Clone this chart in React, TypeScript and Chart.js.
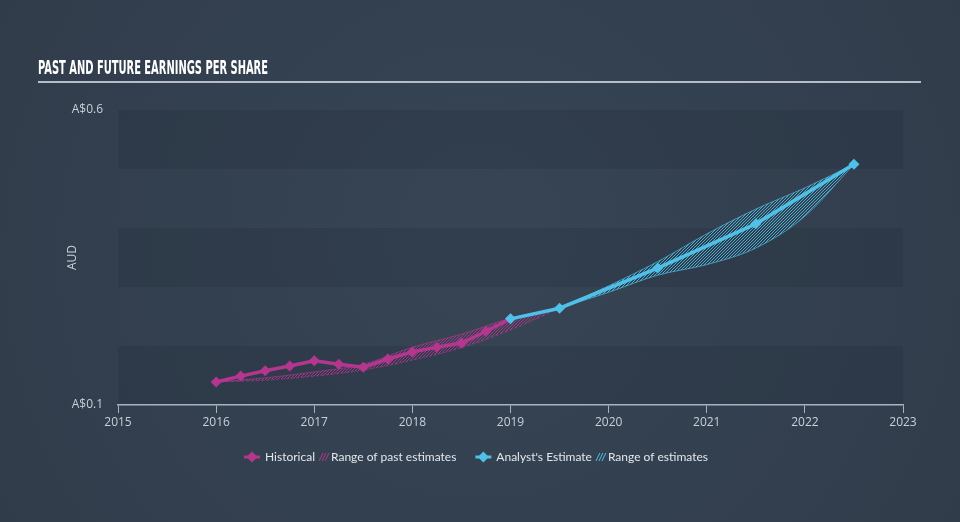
import React, { useEffect, useRef } from 'react';
import { Chart, registerables } from 'chart.js';

Chart.register(...registerables);

// ---- data ----
const histYears = [2016, 2016.25, 2016.5, 2016.75, 2017, 2017.25, 2017.5, 2017.75, 2018, 2018.25, 2018.5, 2018.75, 2019];
const histEps = [0.139, 0.149, 0.158, 0.166, 0.175, 0.169, 0.164, 0.178, 0.19, 0.198, 0.205, 0.225, 0.246];

const estYears = [2019, 2019.5, 2020.5, 2021.5, 2022.5];
const estEps = [0.246, 0.264, 0.332, 0.407, 0.508];

const pastRangeYears = [2016, 2016.5, 2017, 2017.5, 2018, 2018.5, 2019, 2019.5];
const pastRangeHigh = [0.139, 0.146, 0.156, 0.169, 0.198, 0.22, 0.247, 0.264];
const pastRangeLow = [0.139, 0.142, 0.149, 0.159, 0.176, 0.197, 0.227, 0.264];

const futRangeYears = [2019.5, 2020, 2020.5, 2021, 2021.5, 2022, 2022.5];
const futRangeHigh = [0.264, 0.302, 0.343, 0.39, 0.432, 0.468, 0.508];
const futRangeLow = [0.264, 0.291, 0.32, 0.338, 0.366, 0.42, 0.508];

const yMin = 0.1;
const yMax = 0.6;
const yStep = 0.1;
const xMin = 2015;
const xMax = 2023;

const titleText = 'PAST AND FUTURE EARNINGS PER SHARE';
const yAxisTitle = 'AUD';
const legendLabels = ['Historical', 'Range of past estimates', "Analyst's Estimate", 'Range of estimates'];

const MAGENTA = '#b4368f';
const CYAN = '#4fc1e8';
const TEXT = '#c9d0d9';

function pts(xs: number[], ys: number[]) {
  return xs.map((x, i) => ({ x, y: ys[i] }));
}

function makeHatch(color: string): CanvasPattern | string {
  const c = document.createElement('canvas');
  const s = 3;
  c.width = s;
  c.height = s;
  const g = c.getContext('2d');
  if (!g) return color;
  g.strokeStyle = color;
  g.lineWidth = 0.9;
  g.beginPath();
  g.moveTo(0, s);
  g.lineTo(s, 0);
  g.moveTo(-1, 1);
  g.lineTo(1, -1);
  g.moveTo(s - 1, s + 1);
  g.lineTo(s + 1, s - 1);
  g.stroke();
  const p = g.createPattern(c, 'repeat');
  return p || color;
}

const decoPlugin = {
  id: 'deco',
  beforeDraw(chart: any) {
    const { ctx, width, height, chartArea, scales } = chart;
    ctx.save();
    const grad = ctx.createRadialGradient(width * 0.5, height * 0.45, 50, width * 0.5, height * 0.5, width * 0.65);
    grad.addColorStop(0, '#364454');
    grad.addColorStop(1, '#303b49');
    ctx.fillStyle = grad;
    ctx.fillRect(0, 0, width, height);
    const y = scales.y;
    ctx.fillStyle = 'rgba(20,28,40,0.14)';
    for (let v = yMin, k = 0; v < yMax - 1e-9; v += yStep, k++) {
      if (k % 2 === 0) {
        const top = y.getPixelForValue(v + yStep);
        const bot = y.getPixelForValue(v);
        ctx.fillRect(chartArea.left, top, chartArea.right - chartArea.left, bot - top);
      }
    }
    ctx.restore();
  },
  afterDraw(chart: any) {
    const { ctx, chartArea } = chart;
    ctx.save();
    // title
    ctx.font = 'bold 20px "DejaVu Sans Condensed", "DejaVu Sans", sans-serif';
    const tw = ctx.measureText(titleText).width;
    ctx.fillStyle = '#ffffff';
    ctx.textBaseline = 'alphabetic';
    ctx.translate(38, 74);
    ctx.scale(230 / tw, 1);
    ctx.fillText(titleText, 0, 0);
    ctx.setTransform(1, 0, 0, 1, 0, 0);
    // underline
    ctx.strokeStyle = '#b6bdc6';
    ctx.lineWidth = 2;
    ctx.beginPath();
    ctx.moveTo(38, 82);
    ctx.lineTo(921, 82);
    ctx.stroke();
    // y axis title
    ctx.save();
    ctx.translate(73, (chartArea.top + chartArea.bottom) / 2);
    ctx.rotate(-Math.PI / 2);
    ctx.font = '12px "Open Sans", sans-serif';
    ctx.fillStyle = TEXT;
    ctx.textAlign = 'center';
    ctx.textBaseline = 'middle';
    ctx.fillText(yAxisTitle, 0, 0);
    ctx.restore();

    // legend
    ctx.font = '12px "Lato", sans-serif';
    ctx.textBaseline = 'middle';
    ctx.textAlign = 'left';
    const ly = 457;
    const iconW = 16;
    const hatchW = 8;
    const widths = legendLabels.map((t) => ctx.measureText(t).width);
    const groupW = (a: number, b: number) => iconW + 5 + a + 4 + hatchW + 4 + b;
    const total = groupW(widths[0], widths[1]) + 19 + groupW(widths[2], widths[3]);
    let x = 476 - total / 2;
    const drawGroup = (color: string, a: string, aw: number, b: string, bw: number) => {
      ctx.strokeStyle = color;
      ctx.lineWidth = 3;
      ctx.beginPath();
      ctx.moveTo(x, ly);
      ctx.lineTo(x + iconW, ly);
      ctx.stroke();
      ctx.fillStyle = color;
      ctx.beginPath();
      const cx = x + iconW / 2;
      ctx.moveTo(cx, ly - 5.5);
      ctx.lineTo(cx + 5.5, ly);
      ctx.lineTo(cx, ly + 5.5);
      ctx.lineTo(cx - 5.5, ly);
      ctx.closePath();
      ctx.fill();
      x += iconW + 5;
      ctx.fillStyle = '#e3e7ec';
      ctx.fillText(a, x, ly);
      x += aw + 4;
      // hatch icon
      ctx.strokeStyle = color;
      ctx.lineWidth = 1;
      ctx.beginPath();
      for (let i = 0; i < 3; i++) {
        ctx.moveTo(x + i * 3, ly + 4);
        ctx.lineTo(x + i * 3 + 4, ly - 4);
      }
      ctx.stroke();
      x += hatchW + 4;
      ctx.fillStyle = '#e3e7ec';
      ctx.fillText(b, x, ly);
      x += bw + 19;
    };
    drawGroup(MAGENTA, legendLabels[0], widths[0], legendLabels[1], widths[1]);
    drawGroup(CYAN, legendLabels[2], widths[2], legendLabels[3], widths[3]);
    ctx.restore();
  },
};

export default function App() {
  const ref = useRef<HTMLCanvasElement | null>(null);
  useEffect(() => {
    document.body.style.margin = '0';
    if (!ref.current) return;
    const magHatch = makeHatch('rgba(180,54,143,0.95)');
    const cyanHatch = makeHatch('rgba(79,193,232,0.95)');
    const chart = new Chart(ref.current, {
      type: 'line',
      data: {
        datasets: [
          {
            label: legendLabels[2],
            data: pts(estYears, estEps),
            borderColor: CYAN,
            backgroundColor: CYAN,
            borderWidth: 3.5,
            pointStyle: 'rectRot',
            pointRadius: 5.5,
            pointBorderWidth: 0,
            pointBackgroundColor: CYAN,
            fill: false,
            tension: 0,
          },
          {
            label: legendLabels[0],
            data: pts(histYears, histEps),
            borderColor: MAGENTA,
            backgroundColor: MAGENTA,
            borderWidth: 3.5,
            pointStyle: 'rectRot',
            pointRadius: 5.5,
            pointBorderWidth: 0,
            pointBackgroundColor: MAGENTA,
            fill: false,
            tension: 0,
          },
          {
            label: 'pastHigh',
            data: pts(pastRangeYears, pastRangeHigh),
            borderColor: 'rgba(180,54,143,0.8)',
            borderWidth: 0.8,
            pointRadius: 0,
            backgroundColor: magHatch as any,
            fill: '+1',
            cubicInterpolationMode: 'monotone',
          },
          {
            label: 'pastLow',
            data: pts(pastRangeYears, pastRangeLow),
            borderColor: 'rgba(180,54,143,0.8)',
            borderWidth: 0.8,
            borderDash: [3, 2],
            pointRadius: 0,
            fill: false,
            cubicInterpolationMode: 'monotone',
          },
          {
            label: 'futHigh',
            data: pts(futRangeYears, futRangeHigh),
            borderColor: 'rgba(79,193,232,0.85)',
            borderWidth: 0.8,
            pointRadius: 0,
            backgroundColor: cyanHatch as any,
            fill: '+1',
            cubicInterpolationMode: 'monotone',
          },
          {
            label: 'futLow',
            data: pts(futRangeYears, futRangeLow),
            borderColor: 'rgba(79,193,232,0.85)',
            borderWidth: 0.8,
            pointRadius: 0,
            fill: false,
            cubicInterpolationMode: 'monotone',
          },
        ],
      },
      options: {
        responsive: false,
        animation: false,
        layout: { padding: { top: 110, right: 57, left: 0, bottom: 0 } },
        plugins: {
          legend: { display: false },
          tooltip: { enabled: false },
          title: { display: false },
        },
        scales: {
          x: {
            type: 'linear',
            min: xMin,
            max: xMax,
            afterFit: (s: any) => {
              s.height = 117;
            },
            ticks: {
              stepSize: 1,
              color: TEXT,
              padding: 2,
              font: { size: 12, family: '"Open Sans", sans-serif' },
              callback: (v: any) => String(v),
              maxRotation: 0,
            },
            grid: {
              drawOnChartArea: false,
              drawTicks: true,
              tickLength: 8,
              color: '#a9b3bf',
              lineWidth: 1,
            },
            border: { display: true, color: '#a9b3bf', width: 1.5 },
          },
          y: {
            type: 'linear',
            min: yMin,
            max: yMax,
            afterFit: (s: any) => {
              s.width = 118;
            },
            ticks: {
              stepSize: yStep,
              color: TEXT,
              padding: 15,
              font: { size: 12, family: '"Open Sans", sans-serif' },
              callback: (v: any) => {
                const n = Number(v);
                if (Math.abs(n - yMin) < 1e-6 || Math.abs(n - yMax) < 1e-6) return 'A$' + n.toFixed(1);
                return '';
              },
            },
            grid: { display: false, drawTicks: false },
            border: { display: false },
          },
        },
      },
      plugins: [decoPlugin],
    } as any);
    return () => chart.destroy();
  }, []);
  return <canvas ref={ref} width={960} height={522} style={{ display: 'block', width: 960, height: 522 }} />;
}
